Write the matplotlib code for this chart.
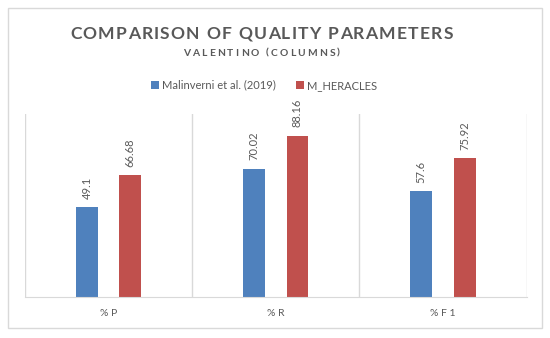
import matplotlib.pyplot as plt
from matplotlib.patches import Rectangle
import numpy as np

categories = ["% P", "% R", "% F 1"]
malinverni = [49.1, 70.02, 57.6]
heracles = [66.68, 88.16, 75.92]
labels_m = ["49.1", "70.02", "57.6"]
labels_h = ["66.68", "88.16", "75.92"]

blue = "#4F81BD"
red = "#C0504D"
grey = "#595959"
line = "#D9D9D9"

plt.rcParams['font.family'] = ['Lato', 'DejaVu Sans']

fig = plt.figure(figsize=(5.5, 3.38), dpi=100)
renderer = fig.canvas.get_renderer()


def tracked_text(xc, yc, s, width, **kw):
    # draw text char by char so the letters spread to the given pixel width
    parts = [fig.text(0, 0, ch, ha="left", va="center", **kw) for ch in s]
    ws = [p.get_window_extent(renderer).width for p in parts]
    track = (width - sum(ws)) / (len(s) - 1)
    xpos = xc * 550 - width / 2
    for p, wc in zip(parts, ws):
        p.set_position((xpos / 550, yc))
        xpos += wc + track


fig.patches.append(Rectangle((8 / 550, 10 / 338), 534 / 550, 320 / 338,
                             transform=fig.transFigure, fill=False,
                             edgecolor=line, linewidth=1))

ax = fig.add_axes([25 / 550, 41.3 / 338, 501.5 / 550, 182.7 / 338])
x = np.arange(len(categories))
w = 0.13
b1 = ax.bar(x - w, malinverni, w, color=blue, label="Malinverni et al. (2019)")
b2 = ax.bar(x + w, heracles, w, color=red, label="M_HERACLES")

for bars, labs in ((b1, labels_m), (b2, labels_h)):
    for r, t in zip(bars, labs):
        ax.annotate(t, (r.get_x() + r.get_width() / 2, r.get_height()),
                    xytext=(0, 6), textcoords="offset points",
                    rotation=90, ha="center", va="bottom",
                    fontsize=8, color=grey)

ax.set_xlim(-0.5, 2.5)
ax.set_ylim(0, 100)
for xv in [-0.5, 0.5, 1.5, 2.5]:
    ax.axvline(xv, color=line, linewidth=1)
for s in ["top", "left", "right"]:
    ax.spines[s].set_visible(False)
ax.spines["bottom"].set_color(line)
ax.set_yticks([])
ax.set_xticks(x)
ax.set_xticklabels(categories, fontsize=7.5, color=grey)
ax.tick_params(axis="x", length=0, pad=9)

tracked_text(261.5 / 550, 0.9, "COMPARISON OF QUALITY PARAMETERS", 383,
             fontsize=12.6, fontweight="bold", color=grey)
tracked_text(261.5 / 550, 0.843, "VALENTINO (COLUMNS)", 157,
             fontsize=7.4, fontweight="bold", color=grey)

fig.legend(handles=[b1, b2], loc="center", bbox_to_anchor=(0.48, 0.748),
           ncol=2, frameon=False, fontsize=8, handlelength=0.7,
           handleheight=0.7, handletextpad=0.3, columnspacing=1.8,
           labelcolor=grey)

plt.savefig("out.png")
